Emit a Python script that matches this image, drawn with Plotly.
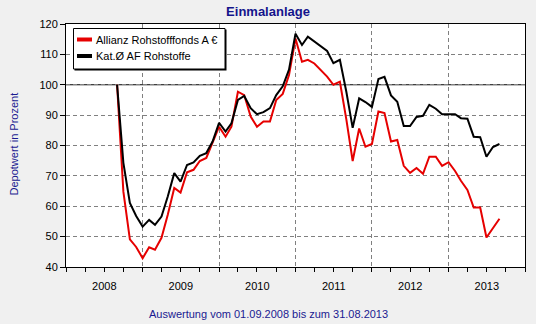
import pandas as pd
import plotly.graph_objects as go

# ---- data (monthly, 01.09.2008 - 31.08.2013, start = 100 %) ----
months = pd.date_range("2008-09-01", periods=61, freq="MS")
allianz = [100, 64.8, 49.1, 46.6, 42.9, 46.5, 45.7, 49.6, 57.2, 66.0, 64.5, 71.2, 72.0,
           74.9, 75.9, 80.8, 86.2, 82.9, 86.2, 97.7, 96.6, 89.5, 86.2, 87.9, 87.9,
           95.0, 97.0, 103.2, 115.2, 107.6, 108.2, 107.0, 104.9, 102.7, 100.0, 101.0,
           88.5, 74.9, 85.6, 79.6, 80.5, 91.2, 90.7, 81.3, 81.8, 73.3, 71.0, 72.6,
           70.7, 76.3, 76.3, 73.3, 74.5, 71.6, 68.4, 65.4, 59.6, 59.6, 49.7, 52.6, 55.9]
kat_af = [100, 74.3, 61.1, 56.8, 53.3, 55.5, 53.9, 56.6, 63.2, 70.9, 68.1, 73.6, 74.4,
          76.6, 77.5, 81.3, 87.5, 84.6, 87.3, 95.0, 96.3, 92.3, 90.3, 91.0, 92.3,
          96.6, 99.5, 105.0, 116.8, 113.1, 115.8, 114.2, 112.8, 111.1, 107.1, 108.2,
          97.6, 85.8, 95.5, 94.3, 92.7, 101.9, 102.6, 96.5, 94.4, 86.4, 86.4, 89.4,
          89.8, 93.4, 92.1, 90.3, 90.3, 90.3, 89.0, 88.8, 82.9, 82.7, 76.3, 79.5, 80.5]
series_names = ["Allianz Rohstofffonds A €", "Kat.Ø AF Rohstoffe"]
series_colors = ["#e60000", "#000000"]
y_ticks = [40, 50, 60, 70, 80, 90, 100, 110, 120]

title_text = "Einmalanlage"
y_title = "Depotwert in Prozent"
footer = "Auswertung vom 01.09.2008 bis zum 31.08.2013"

# ---- layout geometry (pixels) ----
W, H = 536, 324
L, R, T, B = 66, 11, 24, 57
PW, PH = W - L - R, H - T - B


def px(x):
    return (x - L) / PW


def py(y):
    return (H - B - y) / PH


FONT = "Liberation Sans, Arial, sans-serif"
BLUE = "#1a1a90"

fig = go.Figure()
for vals, name, col in zip([allianz, kat_af], series_names, series_colors):
    fig.add_trace(go.Scatter(x=months, y=vals, mode="lines", name=name,
                             line=dict(color=col, width=2), showlegend=False))

shapes = [
    # solid 100 % line
    dict(type="line", xref="paper", yref="y", x0=0, x1=1, y0=100, y1=100,
         line=dict(color="black", width=1), layer="below"),
    # legend shadow + box
    dict(type="rect", xref="paper", yref="paper", x0=px(74.5), x1=px(226.5),
         y0=py(70.5), y1=py(29.5), fillcolor="black", line=dict(width=0)),
    dict(type="rect", xref="paper", yref="paper", x0=px(73.5), x1=px(225),
         y0=py(69), y1=py(28.5), fillcolor="white", line=dict(color="black", width=1)),
]
annotations = []
for i, (name, col) in enumerate(zip(series_names, series_colors)):
    yy = 39.5 + i * 16.5
    shapes.append(dict(type="line", xref="paper", yref="paper", x0=px(77), x1=px(92),
                       y0=py(yy), y1=py(yy), line=dict(color=col, width=4)))
    annotations.append(dict(text=name, xref="paper", yref="paper", x=px(93.5), y=py(yy),
                            xanchor="left", yanchor="middle", showarrow=False,
                            font=dict(family=FONT, size=11, color="black")))

annotations.append(dict(text=y_title, xref="paper", yref="paper", x=px(13.5), y=py(144),
                        textangle=-90, xanchor="center", yanchor="middle", showarrow=False,
                        font=dict(family=FONT, size=11, color=BLUE)))
annotations.append(dict(text=footer, xref="paper", yref="paper", x=px(268.5), y=py(313.5),
                        xanchor="center", yanchor="middle", showarrow=False,
                        font=dict(family=FONT, size=11, color=BLUE)))

fig.update_layout(
    width=W, height=H,
    margin=dict(l=L, r=R, t=T, b=B, pad=0),
    paper_bgcolor="#f0f0f0", plot_bgcolor="white",
    title=dict(text=title_text, x=0.5, xref="container", xanchor="center",
               y=1 - 11.5 / H, yref="container", yanchor="middle",
               font=dict(family=FONT, size=13, color="#14148c", weight="bold")),
    shapes=shapes, annotations=annotations,
    showlegend=False,
    xaxis=dict(type="date", range=["2008-01-01", "2014-01-01"],
               tick0="2008-01-01", dtick="M12", tickformat="%Y",
               ticklabelmode="period", ticklabelstandoff=5,
               ticks="outside", ticklen=4, tickcolor="black", tickwidth=1,
               showgrid=True, gridcolor="#808080", gridwidth=1, griddash="4px,3px",
               minor=dict(dtick="M3", ticks="outside", ticklen=4, tickcolor="black",
                          showgrid=False),
               showline=True, linecolor="black", linewidth=1, mirror=True,
               zeroline=False, fixedrange=True,
               tickfont=dict(family=FONT, size=11, color="black")),
    yaxis=dict(range=[40, 120], tickvals=y_ticks, ticksuffix=" %",
               ticks="outside", ticklen=5, tickcolor="black", tickwidth=1,
               showgrid=True, gridcolor="#808080", gridwidth=1, griddash="4px,3px",
               showline=True, linecolor="black", linewidth=1, mirror=True,
               zeroline=False, fixedrange=True,
               tickfont=dict(family=FONT, size=11, color="black")),
)

fig.write_html("out.html")
